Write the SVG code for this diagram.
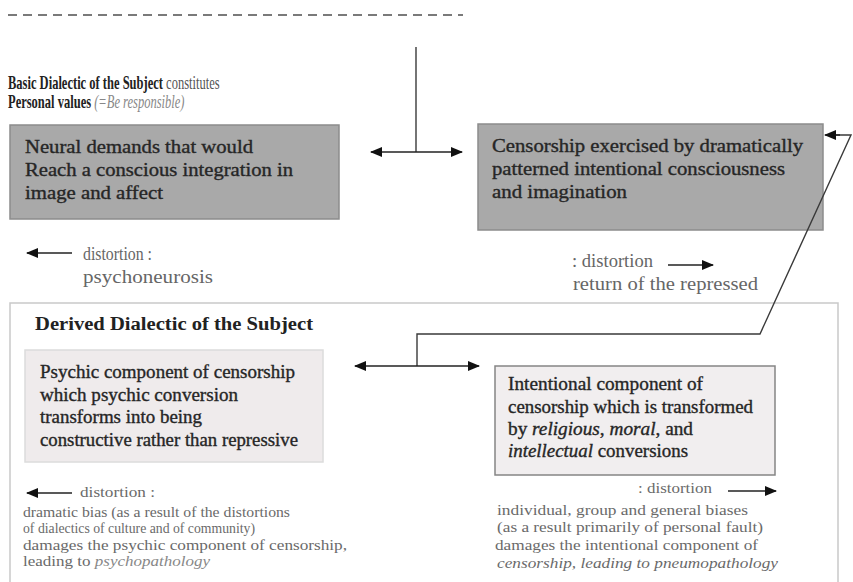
<svg xmlns="http://www.w3.org/2000/svg" width="853" height="582" viewBox="0 0 853 582">
  <defs>
    <marker id="head" viewBox="0 0 12 10" refX="11" refY="5" markerWidth="13" markerHeight="10" markerUnits="userSpaceOnUse" orient="auto-start-reverse">
      <path d="M0,0 L12,5 L0,10 Z" fill="#111"/>
    </marker>
    <style>
      .serif { font-family: "Liberation Serif", "Times New Roman", serif; }
      .box-dark { fill: #a9a9a9; stroke: #8c8c8c; stroke-width: 1.5; }
      .box-light { fill: #efebec; stroke: #dcdcdc; stroke-width: 1.5; }
      .box-framed { fill: #f1eeef; stroke: #858585; stroke-width: 1.5; }
      .frame { fill: #ffffff; stroke: #c9c9c9; stroke-width: 1.5; }
      .node-text { font-size: 18px; fill: #262626; stroke: #262626; stroke-width: 0.35; }
      .head { font-size: 18px; font-weight: bold; fill: #222; }
      .note { font-size: 18px; fill: #666; }
      .small { font-size: 15px; fill: #6a6a6a; }
      .conn { fill: none; stroke: #3a3a3a; stroke-width: 1.4; }
      .arrow { fill: none; stroke: #222; stroke-width: 1.4; marker-end: url(#head); }
    </style>
  </defs>

  <rect width="853" height="582" fill="#ffffff"/>

  <!-- dashed rule at the top of the page -->
  <line x1="8" y1="15" x2="463" y2="15" stroke="#7a7a7a" stroke-width="2.2" stroke-dasharray="9 6"/>

  <!-- heading of the basic dialectic, set in a condensed cut -->
  <g id="basic-heading" class="serif" transform="translate(8,0) scale(0.695,1)">
    <text x="0" y="89" class="head">Basic Dialectic of the Subject <tspan font-weight="normal" fill="#555">constitutes</tspan></text>
    <text x="0" y="108" class="head">Personal values <tspan font-weight="normal" font-style="italic" fill="#888">(=Be responsible)</tspan></text>
  </g>

  <!-- outer frame of the derived dialectic -->
  <g id="derived-frame">
    <path class="frame" d="M10,582 V303 H838 V582"/>
    <text x="35" y="330" class="serif head" font-size="19" textLength="278" lengthAdjust="spacingAndGlyphs">Derived Dialectic of the Subject</text>
  </g>

  <g id="neural-demands" class="serif">
    <rect class="box-dark" x="10" y="125" width="329" height="94"/>
    <text class="node-text" x="25" y="153" textLength="228" lengthAdjust="spacingAndGlyphs">Neural demands that would</text>
    <text class="node-text" x="25" y="176" textLength="268" lengthAdjust="spacingAndGlyphs">Reach a conscious integration in</text>
    <text class="node-text" x="25" y="199" textLength="138" lengthAdjust="spacingAndGlyphs">image and affect</text>
  </g>

  <g id="censorship" class="serif">
    <rect class="box-dark" x="478" y="124" width="345" height="106"/>
    <text class="node-text" x="492" y="152" textLength="311" lengthAdjust="spacingAndGlyphs">Censorship exercised by dramatically</text>
    <text class="node-text" x="492" y="175" textLength="293" lengthAdjust="spacingAndGlyphs">patterned intentional consciousness</text>
    <text class="node-text" x="492" y="198" textLength="135" lengthAdjust="spacingAndGlyphs">and imagination</text>
  </g>

  <g id="psychic-component" class="serif">
    <rect class="box-light" x="25" y="350" width="298" height="112"/>
    <text class="node-text" x="40" y="378" textLength="255" lengthAdjust="spacingAndGlyphs">Psychic component of censorship</text>
    <text class="node-text" x="40" y="401" textLength="198" lengthAdjust="spacingAndGlyphs">which psychic conversion</text>
    <text class="node-text" x="40" y="423" textLength="162" lengthAdjust="spacingAndGlyphs">transforms into being</text>
    <text class="node-text" x="40" y="446" textLength="258" lengthAdjust="spacingAndGlyphs">constructive rather than repressive</text>
  </g>

  <g id="intentional-component" class="serif">
    <rect class="box-framed" x="495" y="366" width="280" height="109"/>
    <text class="node-text" x="508" y="390" textLength="195" lengthAdjust="spacingAndGlyphs">Intentional component of</text>
    <text class="node-text" x="508" y="413" textLength="245" lengthAdjust="spacingAndGlyphs">censorship which is transformed</text>
    <text class="node-text" x="508" y="435" textLength="185" lengthAdjust="spacingAndGlyphs">by <tspan font-style="italic">religious</tspan>, <tspan font-style="italic">moral</tspan>, and</text>
    <text class="node-text" x="508" y="457" textLength="180" lengthAdjust="spacingAndGlyphs"><tspan font-style="italic">intellectual</tspan> conversions</text>
  </g>

  <!-- distortion notes -->
  <g id="note-psychoneurosis" class="serif">
    <line class="arrow" x1="72" y1="253" x2="27" y2="253"/>
    <text class="note" x="83" y="260" textLength="69" lengthAdjust="spacingAndGlyphs">distortion :</text>
    <text class="note" x="83" y="283" textLength="130" lengthAdjust="spacingAndGlyphs">psychoneurosis</text>
  </g>

  <g id="note-return" class="serif">
    <text class="note" x="572" y="267" textLength="81" lengthAdjust="spacingAndGlyphs">: distortion</text>
    <line class="arrow" x1="668" y1="265" x2="713" y2="265"/>
    <text class="note" x="573" y="290" textLength="185" lengthAdjust="spacingAndGlyphs">return of the repressed</text>
  </g>

  <g id="note-psychopathology" class="serif">
    <line class="arrow" x1="72" y1="493" x2="27" y2="493"/>
    <text class="small" x="80" y="497" textLength="75" lengthAdjust="spacingAndGlyphs">distortion :</text>
    <text class="small" x="23" y="517" textLength="267" lengthAdjust="spacingAndGlyphs">dramatic bias (as a result of the distortions</text>
    <text class="small" x="23" y="533" textLength="232" lengthAdjust="spacingAndGlyphs">of dialectics of culture and of community)</text>
    <text class="small" x="23" y="550" textLength="324" lengthAdjust="spacingAndGlyphs">damages the psychic component of censorship,</text>
    <text class="small" x="23" y="566" textLength="187" lengthAdjust="spacingAndGlyphs">leading to <tspan font-style="italic" fill="#888">psychopathology</tspan></text>
  </g>

  <g id="note-pneumopathology" class="serif">
    <text class="small" x="638" y="493" textLength="74" lengthAdjust="spacingAndGlyphs">: distortion</text>
    <line class="arrow" x1="728" y1="491" x2="776" y2="491"/>
    <text class="small" x="497" y="515" textLength="251" lengthAdjust="spacingAndGlyphs">individual, group and general biases</text>
    <text class="small" x="497" y="532" textLength="266" lengthAdjust="spacingAndGlyphs">(as a result primarily of personal fault)</text>
    <text class="small" x="495" y="550" textLength="263" lengthAdjust="spacingAndGlyphs">damages the intentional component of</text>
    <text class="small" x="497" y="568" font-style="italic" fill="#888" textLength="281" lengthAdjust="spacingAndGlyphs">censorship, leading to pneumopathology</text>
  </g>

  <!-- connectors -->
  <g id="connectors">
    <line class="conn" x1="416" y1="47" x2="416" y2="152"/>
    <line class="arrow" x1="416" y1="152" x2="371" y2="152"/>
    <line class="arrow" x1="416" y1="152" x2="462" y2="152"/>

    <path class="conn" d="M417,366 V334 H760 L851,135 H836"/>
    <line class="arrow" x1="840" y1="135" x2="825" y2="135"/>
    <line class="arrow" x1="417" y1="366" x2="355" y2="366"/>
    <line class="arrow" x1="417" y1="366" x2="479" y2="366"/>
  </g>
</svg>
